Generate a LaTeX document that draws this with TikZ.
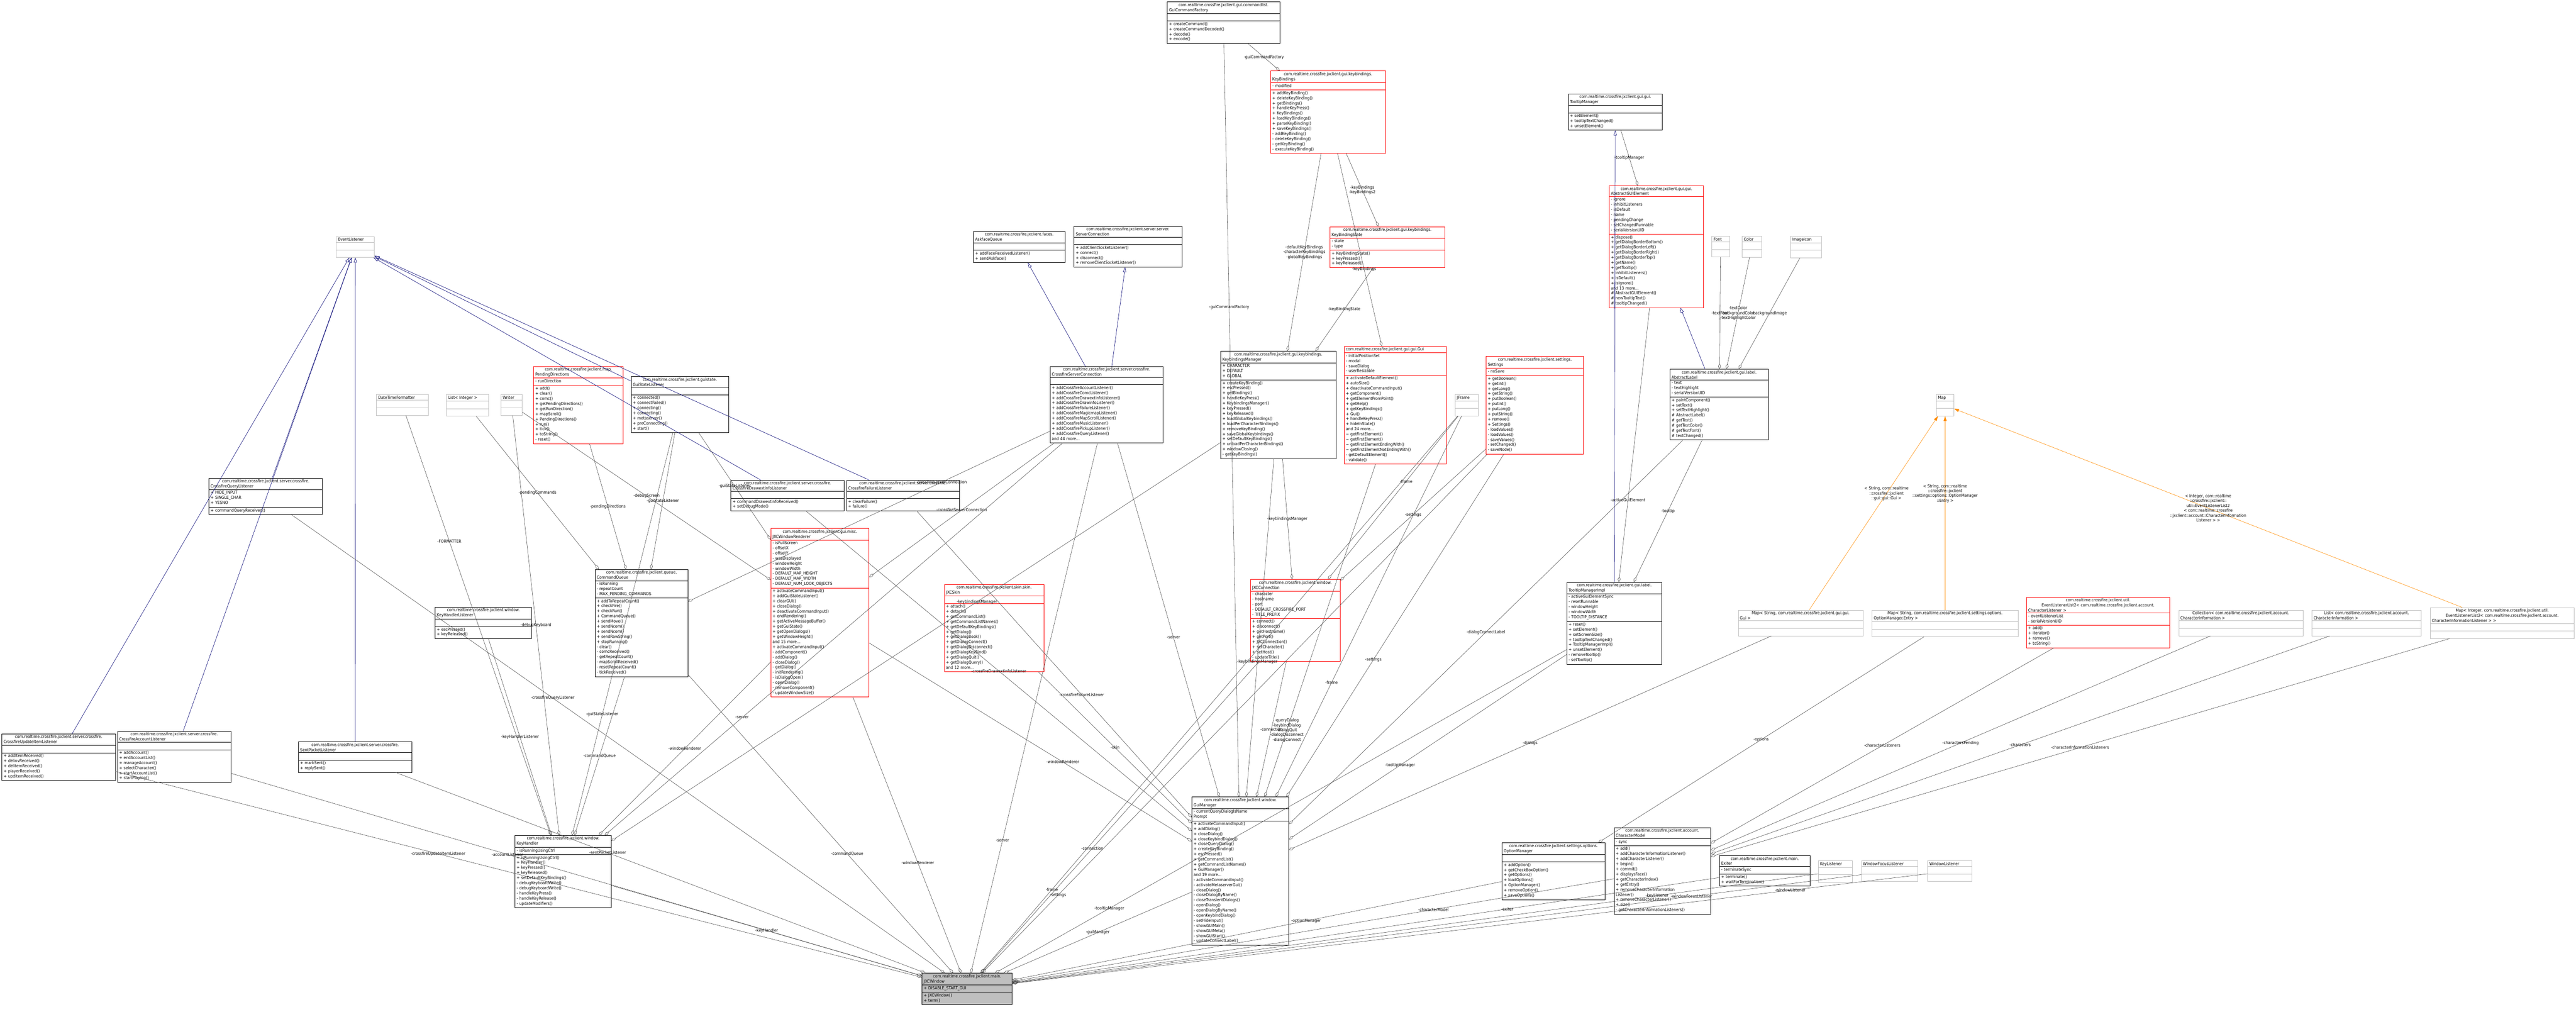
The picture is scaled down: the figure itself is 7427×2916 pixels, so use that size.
\documentclass[tikz,border=0pt]{standalone}
\usepackage{fontspec}
\setmainfont{DejaVu Sans Condensed}
\usetikzlibrary{shapes.multipart,arrows.meta}
\tikzset{
 cls/.style={rectangle split, rectangle split parts=3, anchor=north west, draw, line width=1pt,
   inner xsep=5pt, inner ysep=3pt, font=\fontsize{12}{14.7}\selectfont, fill=white},
 blk/.style={draw=black},
 redc/.style={draw=red},
 gry/.style={draw=gray!50},
 mainc/.style={draw=black, fill=gray!50},
 agg/.style={draw=black!75, line width=0.8pt, -{Diamond[open,length=16pt,width=8pt]}},
 inh/.style={draw=blue!45!black, line width=0.9pt, -{Triangle[open,length=14pt,width=9pt]}},
 tmpl/.style={draw=orange!90!yellow, line width=0.9pt, -{Triangle[length=14pt,width=9pt]}},
 lbl/.style={font=\fontsize{12}{14}\selectfont, align=center, midway, text=black},
}
\newcommand\cls[8]{\pgfmathsetmacro\clsw{#4-10}%
 \node[cls,#5,text width=\clsw pt] (#1) at (#2pt,-#3pt) {\centering #6\nodepart{two}\raggedright #7\strut\nodepart{three}\raggedright #8\strut};}
\begin{document}
\begin{tikzpicture}
\fill[white] (0,0) rectangle (7427pt,-2916pt);
\useasboundingbox (0,0) rectangle (7427pt,-2916pt);
% ---------- classes ----------
\cls{evl}{969}{682}{110}{gry}{EventListener}{}{}
\cls{query}{602}{1378}{327}{blk}{com.realtime.crossfire.jxclient.server.crossfire.\\CrossfireQueryListener}{+ HIDE\_INPUT\\+ SINGLE\_CHAR\\+ YESNO}{+ commandQueryReceived()}
\cls{dtf}{1085}{1137}{149}{gry}{DateTimeFormatter}{}{}
\cls{lint}{1287}{1137}{121}{gry}{List< Integer >}{}{}
\cls{writer}{1444}{1137}{61}{gry}{Writer}{}{}
\cls{pend}{1538}{1056}{258}{redc}{com.realtime.crossfire.jxclient.map.\\PendingDirections}{- runDirection}{+ add()\\+ clear()\\+ comc()\\+ getPendingDirections()\\+ getRunDirection()\\+ mapScroll()\\+ PendingDirections()\\+ run()\\+ tick()\\+ toString()\\- reset()}
\cls{gsl}{1819}{1085}{281}{blk}{com.realtime.crossfire.jxclient.guistate.\\GuiStateListener}{}{+ connected()\\+ connectFailed()\\+ connecting()\\+ connecting()\\+ metaserver()\\+ preConnecting()\\+ start()}
\cls{askf}{2806}{667}{264}{blk}{com.realtime.crossfire.jxclient.faces.\\AskfaceQueue}{}{+ addFaceReceivedListener()\\+ sendAskface()}
\cls{sconn}{3096}{652}{311}{blk}{com.realtime.crossfire.jxclient.server.server.\\ServerConnection}{}{+ addClientSocketListener()\\+ connect()\\+ disconnect()\\+ removeClientSocketListener()}
\cls{csc}{3027}{1056}{326}{blk}{com.realtime.crossfire.jxclient.server.crossfire.\\CrossfireServerConnection}{}{+ addCrossfireAccountListener()\\+ addCrossfireComcListener()\\+ addCrossfireDrawextinfoListener()\\+ addCrossfireDrawinfoListener()\\+ addCrossfireFailureListener()\\+ addCrossfireMagicmapListener()\\+ addCrossfireMapScrollListener()\\+ addCrossfireMusicListener()\\+ addCrossfirePickupListener()\\+ addCrossfireQueryListener()\\and 44 more...}
\cls{gcf}{3365}{5}{324}{blk}{com.realtime.crossfire.jxclient.gui.commandlist.\\GuiCommandFactory}{}{+ createCommand()\\+ createCommandDecoded()\\+ decode()\\+ encode()}
\cls{kb}{3663}{204}{331}{redc}{com.realtime.crossfire.jxclient.gui.keybindings.\\KeyBindings}{- modified}{+ addKeyBinding()\\+ deleteKeyBinding()\\+ getBindings()\\+ handleKeyPress()\\+ KeyBindings()\\+ loadKeyBindings()\\+ parseKeyBinding()\\+ saveKeyBindings()\\- addKeyBinding()\\- deleteKeyBinding()\\- getKeyBinding()\\- executeKeyBinding()}
\cls{kbs}{3834}{653}{331}{redc}{com.realtime.crossfire.jxclient.gui.keybindings.\\KeyBindingState}{- state\\- type}{+ KeyBindingState()\\+ keyPressed()\\+ keyReleased()}
\cls{kbm}{3519}{1012}{332}{blk}{com.realtime.crossfire.jxclient.gui.keybindings.\\KeybindingsManager}{+ CHARACTER\\+ DEFAULT\\+ GLOBAL}{+ createKeyBinding()\\+ escPressed()\\+ getBindings()\\+ handleKeyPress()\\+ KeybindingsManager()\\+ keyPressed()\\+ keyReleased()\\+ loadGlobalKeybindings()\\+ loadPerCharacterBindings()\\+ removeKeyBinding()\\+ saveGlobalKeybindings()\\+ setDefaultKeyBindings()\\+ unloadPerCharacterBindings()\\+ windowClosing()\\- getKeyBindings()}
\cls{gui}{3875}{998}{294}{redc}{com.realtime.crossfire.jxclient.gui.gui.Gui}{- initialPositionSet\\- modal\\- saveDialog\\- userResizable}{+ activateDefaultElement()\\+ autoSize()\\+ deactivateCommandInput()\\+ getComponent()\\+ getElementFromPoint()\\+ getHelp()\\+ getKeyBindings()\\+ Gui()\\+ handleKeyPress()\\+ hideInState()\\and 24 more...\\\textasciitilde{} getFirstElement()\\\textasciitilde{} getFirstElement()\\\textasciitilde{} getFirstElementEndingWith()\\\textasciitilde{} getFirstElementNotEndingWith()\\- getDefaultElement()\\- validate()}
\cls{jframe}{4195}{1137}{67}{gry}{JFrame}{}{}
\cls{settings}{4284}{1027}{281}{redc}{com.realtime.crossfire.jxclient.settings.\\Settings}{- noSave}{+ getBoolean()\\+ getInt()\\+ getLong()\\+ getString()\\+ putBoolean()\\+ putInt()\\+ putLong()\\+ putString()\\+ remove()\\+ Settings()\\- loadValues()\\- loadValues()\\- saveValues()\\- setChanged()\\- saveNode()}
\cls{ttm}{4521}{270}{271}{blk}{com.realtime.crossfire.jxclient.gui.gui.\\TooltipManager}{}{+ setElement()\\+ tooltipTextChanged()\\+ unsetElement()}
\cls{agui}{4639}{535}{272}{redc}{com.realtime.crossfire.jxclient.gui.gui.\\AbstractGUIElement}{- ignore\\- inhibitListeners\\- isDefault\\- name\\- pendingChange\\- setChangedRunnable\\- serialVersionUID}{+ dispose()\\+ getDialogBorderBottom()\\+ getDialogBorderLeft()\\+ getDialogBorderRight()\\+ getDialogBorderTop()\\+ getName()\\+ getTooltip()\\+ inhibitListeners()\\+ isDefault()\\+ isIgnore()\\and 13 more...\\\# AbstractGUIElement()\\\# newTooltipText()\\\# tooltipChanged()}
\cls{font}{4935}{681}{51}{gry}{Font}{}{}
\cls{color}{5022}{681}{56}{gry}{Color}{}{}
\cls{imgicon}{5161}{681}{90}{gry}{ImageIcon}{}{}
\cls{alabel}{4814}{1064}{284}{blk}{com.realtime.crossfire.jxclient.gui.label.\\AbstractLabel}{- text\\- textHighlight\\- serialVersionUID}{+ paintComponent()\\+ setText()\\+ setTextHighlight()\\\# AbstractLabel()\\\# getText()\\\# getTextColor()\\\# getTextFont()\\\# textChanged()}
\cls{map}{5582}{1137}{51}{gry}{Map}{}{}
\cls{drawext}{2107}{1384}{326}{blk}{com.realtime.crossfire.jxclient.server.crossfire.\\CrossfireDrawextinfoListener}{}{+ commandDrawextinfoReceived()\\+ setDebugMode()}
\cls{failure}{2440}{1384}{326}{blk}{com.realtime.crossfire.jxclient.server.crossfire.\\CrossfireFailureListener}{}{+ clearFailure()\\+ failure()}
\cls{rend}{2222}{1523}{283}{redc}{com.realtime.crossfire.jxclient.gui.misc.\\JXCWindowRenderer}{- isFullScreen\\- offsetX\\- offsetY\\- wasDisplayed\\- windowHeight\\- windowWidth\\- DEFAULT\_MAP\_HEIGHT\\- DEFAULT\_MAP\_WIDTH\\- DEFAULT\_NUM\_LOOK\_OBJECTS}{+ activateCommandInput()\\+ addGuiStateListener()\\+ clearGUI()\\+ closeDialog()\\+ deactivateCommandInput()\\+ endRendering()\\+ getActiveMessageBuffer()\\+ getGuiState()\\+ getOpenDialogs()\\+ getWindowHeight()\\and 15 more...\\+ activateCommandInput()\\- addComponent()\\- addDialog()\\- closeDialog()\\- getDialog()\\- initRendering()\\- isDialogOpen()\\- openDialog()\\- removeComponent()\\- updateWindowSize()}
\cls{skin}{2722}{1684}{287}{redc}{com.realtime.crossfire.jxclient.skin.skin.\\JXCSkin}{}{+ attach()\\+ detach()\\+ getCommandList()\\+ getCommandListNames()\\+ getDefaultKeyBindings()\\+ getDialog()\\+ getDialogBook()\\+ getDialogConnect()\\+ getDialogDisconnect()\\+ getDialogKeyBind()\\+ getDialogQuit()\\+ getDialogQuery()\\and 12 more...}
\cls{cq}{1715}{1641}{268}{blk}{com.realtime.crossfire.jxclient.queue.\\CommandQueue}{- isRunning\\- repeatCount\\- MAX\_PENDING\_COMMANDS}{+ addToRepeatCount()\\+ checkFire()\\+ checkRun()\\+ CommandQueue()\\+ sendMove()\\+ sendNcom()\\+ sendNcom()\\+ sendRawString()\\+ stopRunning()\\- clear()\\- comcReceived()\\- getRepeatCount()\\- mapScrollReceived()\\- resetRepeatCount()\\- tickReceived()}
\cls{khl}{1254}{1750}{278}{blk}{com.realtime.crossfire.jxclient.window.\\KeyHandlerListener}{}{+ escPressed()\\+ keyReleased()}
\cls{kh}{1484}{2408}{278}{blk}{com.realtime.crossfire.jxclient.window.\\KeyHandler}{- isRunningUsingCtrl}{+ isRunningUsingCtrl()\\+ KeyHandler()\\+ keyPressed()\\+ keyReleased()\\+ setDefaultKeyBindings()\\- debugKeyboardWrite()\\- debugKeyboardWrite()\\- handleKeyPress()\\- handleKeyRelease()\\- updateModifiers()}
\cls{jxcconn}{3605}{1670}{258}{redc}{com.realtime.crossfire.jxclient.window.\\JXCConnection}{- character\\- hostname\\- port\\- DEFAULT\_CROSSFIRE\_PORT\\- TITLE\_PREFIX}{+ connect()\\+ disconnect()\\+ getHostname()\\+ getPort()\\+ JXCConnection()\\+ setCharacter()\\+ setHost()\\- updateTitle()}
\cls{ttmi}{4517}{1678}{273}{blk}{com.realtime.crossfire.jxclient.gui.label.\\TooltipManagerImpl}{- activeGuiElementSync\\- resetRunnable\\- windowHeight\\- windowWidth\\- TOOLTIP\_DISTANCE}{+ reset()\\+ setElement()\\+ setScreenSize()\\+ tooltipTextChanged()\\+ TooltipManagerImpl()\\+ unsetElement()\\- removeTooltip()\\- setTooltip()}
\cls{gm}{3436}{2297}{279}{blk}{com.realtime.crossfire.jxclient.window.\\GuiManager}{- currentQueryDialogIsName\\Prompt}{+ activateCommandInput()\\+ addDialog()\\+ closeDialog()\\+ closeKeybindDialog()\\+ closeQueryDialog()\\+ createKeyBinding()\\+ escPressed()\\+ getCommandList()\\+ getCommandListNames()\\+ GuiManager()\\and 19 more...\\- activateCommandInput()\\- activateMetaserverGui()\\- closeDialog()\\- closeDialogByName()\\- closeTransientDialogs()\\- openDialog()\\- openDialogByName()\\- openKeybindDialog()\\- setHideInput()\\- showGUIMain()\\- showGUIMeta()\\- showGUIStart()\\- updateConnectLabel()}
\cls{win}{2658}{2805}{260}{mainc}{com.realtime.crossfire.jxclient.main.\\JXCWindow}{+ DISABLE\_START\_GUI}{+ JXCWindow()\\+ term()}
\cls{optm}{4330}{2429}{297}{blk}{com.realtime.crossfire.jxclient.settings.options.\\OptionManager}{}{+ addOption()\\+ getCheckBoxOption()\\+ getOptions()\\+ loadOptions()\\+ OptionManager()\\+ removeOption()\\+ saveOptions()}
\cls{cmodel}{4653}{2385}{278}{blk}{com.realtime.crossfire.jxclient.account.\\CharacterModel}{- sync}{+ add()\\+ addCharacterInformationListener()\\+ addCharacterListener()\\+ begin()\\+ commit()\\+ displaysFace()\\+ getCharacterIndex()\\+ getEntry()\\+ removeCharacterInformation\\Listener()\\+ removeCharacterListener()\\+ size()\\- getCharacterInformationListeners()}
\cls{exiter}{4957}{2466}{261}{blk}{com.realtime.crossfire.jxclient.main.\\Exiter}{- terminateSync}{+ terminate()\\+ waitForTermination()}
\cls{keyl}{5242}{2481}{98}{gry}{KeyListener}{}{}
\cls{wfl}{5366}{2481}{162}{gry}{WindowFocusListener}{}{}
\cls{wl}{5557}{2481}{128}{gry}{WindowListener}{}{}
\cls{mapgui}{5011}{1758}{360}{gry}{Map< String, com.realtime.crossfire.jxclient.gui.gui.\\Gui >}{}{}
\cls{mapopt}{5397}{1758}{421}{gry}{Map< String, com.realtime.crossfire.jxclient.settings.options.\\OptionManager.Entry >}{}{}
\cls{ell}{5842}{1721}{413}{redc}{com.realtime.crossfire.jxclient.util.\\EventListenerList2< com.realtime.crossfire.jxclient.account.\\CharacterListener >}{- eventListenerList\\- serialVersionUID}{+ add()\\+ iterator()\\+ remove()\\+ toString()}
\cls{coll}{6281}{1758}{358}{gry}{Collection< com.realtime.crossfire.jxclient.account.\\CharacterInformation >}{}{}
\cls{lci}{6665}{1758}{315}{gry}{List< com.realtime.crossfire.jxclient.account.\\CharacterInformation >}{}{}
\cls{mapint}{7006}{1751}{415}{gry}{Map< Integer, com.realtime.crossfire.jxclient.util.\\EventListenerList2< com.realtime.crossfire.jxclient.account.\\CharacterInformationListener > >}{}{}
\cls{upd}{5}{2115}{327}{blk}{com.realtime.crossfire.jxclient.server.crossfire.\\CrossfireUpdateItemListener}{}{+ addItemReceived()\\+ delinvReceived()\\+ delitemReceived()\\+ playerReceived()\\+ upditemReceived()}
\cls{acc}{338}{2108}{327}{blk}{com.realtime.crossfire.jxclient.server.crossfire.\\CrossfireAccountListener}{}{+ addAccount()\\+ endAccountList()\\+ manageAccount()\\+ selectCharacter()\\+ startAccountList()\\+ startPlaying()}
\cls{sent}{860}{2138}{327}{blk}{com.realtime.crossfire.jxclient.server.crossfire.\\SentPacketListener}{}{+ markSent()\\+ replySent()}
% ---------- inheritance ----------
\foreach \c in {upd,acc,query,sent,gsl,drawext,failure} \draw[inh] (\c) -- (evl);
\draw[inh] (csc) -- (askf);
\draw[inh] (csc) -- (sconn);
\draw[inh] (ttmi) -- (ttm);
\draw[inh] (alabel) -- (agui);
% ---------- template ----------
\draw[tmpl] (mapgui) -- node[lbl,pos=0.6]{< String, com::realtime\\::crossfire::jxclient\\::gui::gui::Gui >} (map);
\draw[tmpl] (mapopt) -- node[lbl,pos=0.6]{< String, com::realtime\\::crossfire::jxclient\\::settings::options::OptionManager\\::Entry >} (map);
\draw[tmpl] (mapint) -- node[lbl,pos=0.5]{< Integer, com::realtime\\::crossfire::jxclient::\\util::EventListenerList2\\< com::realtime::crossfire\\::jxclient::account::CharacterInformation\\Listener > >} (map);
% ---------- aggregation ----------
\draw[agg] (gcf) -- node[lbl]{-guiCommandFactory} (kb);
\draw[agg] (gcf) -- node[lbl,pos=0.35]{-guiCommandFactory} (gm);
\draw[agg] (kb) -- node[lbl]{-defaultKeyBindings\\-characterKeyBindings\\-globalKeyBindings} (kbm);
\draw[agg] (kb) -- node[lbl]{-keyBindings\\-keyBindings2} (kbs);
\draw[agg] (kbs) -- node[lbl]{-keyBindingState} (kbm);
\draw[agg] (kb) -- node[lbl,pos=0.6]{-keyBindings} (gui);
\draw[agg] (ttm) -- node[lbl]{-tooltipManager} (agui);
\draw[agg] (font) -- node[lbl]{-textFont} (alabel);
\draw[agg] (color) -- node[lbl]{-textColor\\-backgroundColor\\-textHighlightColor} (alabel);
\draw[agg] (imgicon) -- node[lbl]{-backgroundImage} (alabel);
\draw[agg] (agui) -- node[lbl,pos=0.7]{-activeGuiElement} (ttmi);
\draw[agg] (alabel) -- node[lbl]{-tooltip} (ttmi);
\draw[agg] (csc) -- node[lbl]{-crossfireServerConnection} (rend);
\draw[agg] (gsl) -- node[lbl]{-guiStateListener} (rend);
\draw[agg] (writer) -- node[lbl]{-debugScreen} (rend);
\draw[agg] (lint) -- node[lbl]{-pendingCommands} (cq);
\draw[agg] (pend) -- node[lbl]{-pendingDirections} (cq);
\draw[agg] (gsl) -- node[lbl]{-guiStateListener} (cq);
\draw[agg] (csc) -- node[lbl,pos=0.3]{-crossfireServerConnection} (cq);
\draw[agg] (dtf) -- node[lbl,pos=0.3]{-FORMATTER} (kh);
\draw[agg] (writer) -- node[lbl]{-debugKeyboard} (kh);
\draw[agg] (gsl) -- node[lbl,pos=0.7]{-guiStateListener} (kh);
\draw[agg] (khl) -- node[lbl]{-keyHandlerListener} (kh);
\draw[agg] (cq) -- node[lbl]{-commandQueue} (kh);
\draw[agg] (rend) -- node[lbl]{-windowRenderer} (kh);
\draw[agg] (csc) -- node[lbl,pos=0.7]{-server} (kh);
\draw[agg] (kbm) -- node[lbl,pos=0.4]{-keybindingsManager} (kh);
\draw[agg] (rend) -- node[lbl,pos=0.6]{-windowRenderer} (gm);
\draw[agg] (skin) -- node[lbl]{-skin} (gm);
\draw[agg] (jxcconn) -- node[lbl]{-connection} (gm);
\draw[agg] (ttmi) -- node[lbl,pos=0.6]{-tooltipManager} (gm);
\draw[agg] (jframe) -- node[lbl,pos=0.7]{-frame} (gm);
\draw[agg] (gui) -- node[lbl,pos=0.8]{-queryDialog\\-keybindDialog\\-dialogQuit\\-dialogDisconnect\\-dialogConnect} (gm);
\draw[agg] (settings) -- node[lbl,pos=0.6]{-settings} (gm);
\draw[agg] (kbm) -- node[lbl,pos=0.6]{-keybindingsManager} (gm);
\draw[agg] (csc) -- node[lbl,pos=0.55]{-server} (gm);
\draw[agg] (mapgui) -- node[lbl,pos=0.5]{-dialogs} (gm);
\draw[agg] (alabel) -- node[lbl,pos=0.5]{-dialogConnectLabel} (gm);
\draw[agg] (drawext) -- node[lbl,pos=0.5]{-crossfireDrawextinfoListener} (gm);
\draw[agg] (failure) -- node[lbl,pos=0.6]{-crossfireFailureListener} (gm);
\draw[agg] (settings) -- node[lbl]{-settings} (jxcconn);
\draw[agg] (kbm) -- node[lbl]{-keybindingsManager} (jxcconn);
\draw[agg] (jframe) -- node[lbl,pos=0.4]{-frame} (jxcconn);
\draw[agg] (gm) -- node[lbl]{-guiManager} (win);
\draw[agg] (kh) -- node[lbl]{-keyHandler} (win);
\draw[agg] (cq) -- node[lbl,pos=0.6]{-commandQueue} (win);
\draw[agg] (csc) -- node[lbl,pos=0.75]{-server} (win);
\draw[agg] (rend) -- node[lbl,pos=0.6]{-windowRenderer} (win);
\draw[agg] (query) -- node[lbl,pos=0.4]{-crossfireQueryListener} (win);
\draw[agg] (upd) -- node[lbl,pos=0.4]{-crossfireUpdateItemListener} (win);
\draw[agg] (acc) -- node[lbl,pos=0.4]{-accountListener} (win);
\draw[agg] (sent) -- node[lbl,pos=0.4]{-sentPacketListener} (win);
\draw[agg] (optm) -- node[lbl,pos=0.4]{-optionManager} (win);
\draw[agg] (cmodel) -- node[lbl,pos=0.3]{-characterModel} (win);
\draw[agg] (exiter) -- node[lbl,pos=0.3]{-exiter} (win);
\draw[agg] (keyl) -- node[lbl,pos=0.2]{-keyListener} (win);
\draw[agg] (wfl) -- node[lbl,pos=0.2]{-windowFocusListener} (win);
\draw[agg] (wl) -- node[lbl,pos=0.15]{-windowListener} (win);
\draw[agg] (jxcconn) -- node[lbl,pos=0.6]{-connection} (win);
\draw[agg] (ttmi) -- node[lbl,pos=0.8]{-tooltipManager} (win);
\draw[agg] (jframe) -- node[lbl,pos=0.85]{-frame} (win);
\draw[agg] (settings) -- node[lbl,pos=0.85]{-settings} (win);
\draw[agg] (mapopt) -- node[lbl]{-options} (optm);
\draw[agg] (ell) -- node[lbl]{-characterListeners} (cmodel);
\draw[agg] (coll) -- node[lbl]{-charactersPending} (cmodel);
\draw[agg] (lci) -- node[lbl]{-characters} (cmodel);
\draw[agg] (mapint) -- node[lbl]{-characterInformationListeners} (cmodel);
\end{tikzpicture}
\end{document}
